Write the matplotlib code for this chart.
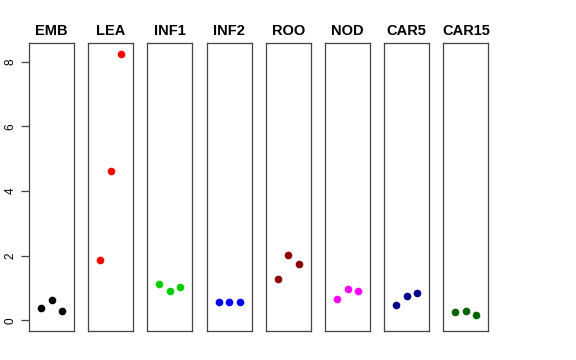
import matplotlib
matplotlib.use("Agg")
import matplotlib.pyplot as plt

plt.rcParams["font.family"] = ["Liberation Sans", "DejaVu Sans"]

# ---------- data ----------
groups = ["EMB", "LEA", "INF1", "INF2", "ROO", "NOD", "CAR5", "CAR15"]
colors = ["black", "red", "#00CD00", "blue", "#8B0000", "magenta", "#00008B", "#006400"]
values = {
    "EMB": [0.39, 0.62, 0.28],
    "LEA": [1.88, 4.62, 8.25],
    "INF1": [1.12, 0.91, 1.03],
    "INF2": [0.56, 0.58, 0.57],
    "ROO": [1.27, 2.01, 1.75],
    "NOD": [0.65, 0.98, 0.92],
    "CAR5": [0.47, 0.76, 0.84],
    "CAR15": [0.26, 0.28, 0.15],
}
reps = [1, 2, 3]
yticks = [0, 2, 4, 6, 8]

W, H = 576, 360
fig = plt.figure(figsize=(W / 100, H / 100), dpi=100)

ymax = max(max(v) for v in values.values())
pad = 0.04 * ymax
left0, step, pw = 29, 59.2, 45
top, bottom = 43, 331

for i, (g, c) in enumerate(zip(groups, colors)):
    x0 = left0 + i * step
    ax = fig.add_axes([x0 / W, 1 - bottom / H, pw / W, (bottom - top) / H])
    ax.plot(reps, values[g], "o", color=c, markersize=5.5, markeredgewidth=0)
    ax.set_xlim(-0.16, 4.16)
    ax.set_ylim(-pad, ymax + pad)
    ax.set_xticks([])
    for s in ax.spines.values():
        s.set_color("#444444")
        s.set_linewidth(0.9)
    if i == 0:
        ax.set_yticks(yticks)
        ax.set_yticklabels([str(t) for t in yticks], rotation=90, va="center", fontsize=8.5)
        ax.tick_params(axis="y", length=6, width=0.9, color="#444444", pad=3)
    else:
        ax.set_yticks([])
    ax.set_title(g, fontsize=10.5, fontweight="bold", pad=6)

fig.savefig("out.png", dpi=100)
